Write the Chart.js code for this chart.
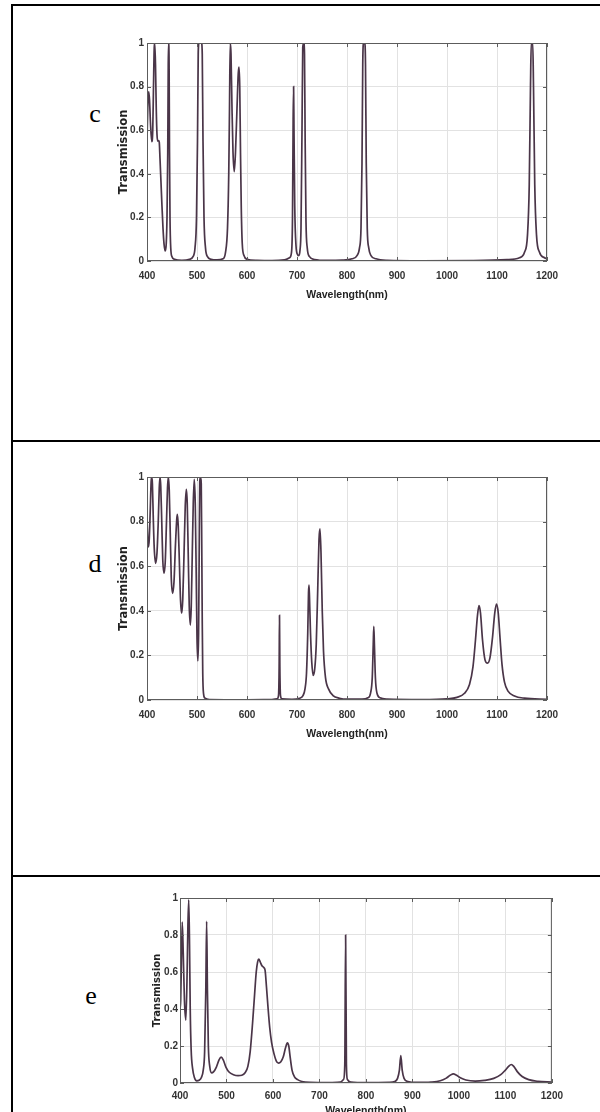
<!DOCTYPE html>
<html>
<head>
<meta charset="utf-8">
<script src="https://cdn.jsdelivr.net/npm/chart.js@4.4.0/dist/chart.umd.min.js"></script>
<style>
  html, body { margin: 0; padding: 0; background: #fff; }
  body { width: 600px; height: 1112px; position: relative; overflow: hidden; }
  .rule { position: absolute; background: #000; }
  .tag { position: absolute; width: 40px; text-align: center; font: 26px/26px 'Liberation Serif', 'Times New Roman', serif; color: #000; }
  canvas { position: absolute; }
</style>
</head>
<body>
<div class="rule" style="left:11px;top:4px;width:600px;height:1.5px"></div>
<div class="rule" style="left:11px;top:4px;width:1.5px;height:1120px"></div>
<div class="rule" style="left:11px;top:440px;width:600px;height:1.5px"></div>
<div class="rule" style="left:11px;top:875px;width:600px;height:1.5px"></div>

<div class="tag" style="left:75px;top:101px">c</div>
<div class="tag" style="left:75px;top:551px">d</div>
<div class="tag" style="left:71px;top:983px">e</div>

<canvas id="chartC" width="470" height="280" style="left:100px;top:30px"></canvas>
<canvas id="chartD" width="470" height="290" style="left:100px;top:460px"></canvas>
<canvas id="chartE" width="440" height="240" style="left:130px;top:885px"></canvas>

<script>
// axis ticks shared by the three panels
const xTickValues = [400, 500, 600, 700, 800, 900, 1000, 1100, 1200];
const xTickLabels = ['400', '500', '600', '700', '800', '900', '1000', '1100', '1200'];
const yTickValues = [0, 0.2, 0.4, 0.6, 0.8, 1];
const yTickLabels = ['0', '0.2', '0.4', '0.6', '0.8', '1'];

// panel c
const cWavelength = [
  400, 401.5, 403.3, 405, 407, 409.5, 411.5, 413, 414.5, 415.5, 417, 418.5, 420, 421.5, 423, 424.5, 426, 428, 430, 432, 434, 436.5, 438.5, 440, 441.5, 442.5, 443.3, 444.2, 445, 446, 447.5, 450, 455,
  470, 485, 492, 496, 499, 501, 502.5, 504, 506.5, 509, 510.5, 512, 514, 517, 521, 528, 540,
  552, 557, 561, 563.5, 565, 566.5, 568, 570, 572, 574.5, 577, 580, 582.5, 584, 585.5, 587, 588.5, 590.5, 594, 600, 620, 650,
  675, 685, 689, 691, 692.3, 693.2, 694, 695.5, 698, 701, 703.5, 706, 708, 710, 711.5, 713.5, 715, 716.3, 718, 720.5, 725, 735, 760,
  790, 810, 820, 825, 828, 830, 831.5, 833, 835.5, 837, 838.5, 840.5, 843.5, 848, 858, 880,
  950, 1050, 1120, 1145, 1155, 1161, 1164.5, 1167, 1168.5, 1171.5, 1173, 1175.5, 1179, 1185, 1195, 1200
];
const cTransmission = [
  0.55, 0.70, 0.777, 0.74, 0.63, 0.548, 0.60, 0.80, 0.98, 1.0, 0.90, 0.70, 0.58, 0.55, 0.552, 0.545, 0.47, 0.36, 0.25, 0.15, 0.08, 0.046, 0.08, 0.20, 0.50, 0.90, 1.0, 0.90, 0.50, 0.20, 0.06, 0.02, 0.008,
  0.003, 0.008, 0.02, 0.06, 0.2, 0.55, 0.95, 1.0, 1.0, 1.0, 0.95, 0.55, 0.2, 0.06, 0.02, 0.008, 0.005,
  0.01, 0.04, 0.15, 0.4, 0.7, 1.0, 0.95, 0.7, 0.5, 0.41, 0.5, 0.7, 0.86, 0.89, 0.8, 0.5, 0.25, 0.08, 0.025, 0.008, 0.003, 0.002,
  0.005, 0.015, 0.04, 0.2, 0.65, 0.8, 0.6, 0.25, 0.07, 0.03, 0.025, 0.05, 0.15, 0.6, 0.98, 1.0, 0.95, 0.55, 0.18, 0.06, 0.02, 0.007, 0.003,
  0.004, 0.01, 0.025, 0.06, 0.15, 0.45, 0.9, 1.0, 1.0, 0.9, 0.45, 0.15, 0.06, 0.025, 0.01, 0.003,
  0.001, 0.002, 0.006, 0.015, 0.04, 0.12, 0.35, 0.8, 1.0, 1.0, 0.8, 0.35, 0.12, 0.04, 0.015, 0.01
];

// panel d
const dWavelength = [
  400, 401.3, 402.7, 404.5, 406.5, 408.3, 409.5, 410.8, 412.5, 414.5, 417.3, 420, 422.5, 424.5, 426, 427.5, 429.5, 431.5, 434, 436.5, 439, 441, 442.7, 444.5, 446.5, 448.5, 451.3, 454, 457, 459.5, 460.7, 462.5, 465, 467, 469.3, 471.5, 474, 476.5, 478.7, 480.5, 482.5, 484.5, 486.7, 488.5, 490.5, 492.5, 494.5, 496.5, 498.5, 500, 501.7, 503.2, 504.5, 505.5, 507, 508.5, 509.5, 510.5, 511.5, 513, 516, 525,
  600, 650, 660, 663, 664.3, 665, 665.7, 667, 670, 690,
  705, 712, 716, 719, 721.5, 723, 724, 725, 727, 729.5, 732.5, 735.5, 738.5, 741.5, 744, 746, 748, 750.5, 753, 757, 763, 772, 785, 800,
  830, 842, 847, 850.5, 852.5, 853.6, 854.8, 856.8, 860, 866, 880, 950,
  1000, 1020, 1035, 1045, 1052, 1057, 1061, 1064, 1067, 1071, 1076, 1081, 1086, 1091, 1095.5, 1099, 1102.5, 1106, 1110, 1115, 1122, 1135, 1155, 1200
];
const dTransmission = [
  0.815, 0.73, 0.687, 0.72, 0.85, 0.98, 1.0, 0.97, 0.82, 0.68, 0.613, 0.66, 0.8, 0.95, 1.0, 0.96, 0.8, 0.63, 0.568, 0.62, 0.8, 0.95, 1.0, 0.94, 0.75, 0.55, 0.478, 0.53, 0.7, 0.81, 0.832, 0.78, 0.6, 0.45, 0.389, 0.45, 0.65, 0.87, 0.945, 0.88, 0.65, 0.42, 0.336, 0.42, 0.65, 0.88, 0.99, 0.88, 0.55, 0.28, 0.175, 0.3, 0.7, 0.98, 1.0, 0.97, 0.7, 0.35, 0.12, 0.03, 0.008, 0.002,
  0.001, 0.002, 0.005, 0.02, 0.15, 0.38, 0.15, 0.02, 0.005, 0.003,
  0.008, 0.02, 0.05, 0.12, 0.3, 0.48, 0.515, 0.46, 0.3, 0.17, 0.11, 0.14, 0.25, 0.5, 0.72, 0.767, 0.66, 0.4, 0.22, 0.1, 0.05, 0.02, 0.008, 0.004,
  0.004, 0.01, 0.03, 0.1, 0.25, 0.33, 0.25, 0.1, 0.03, 0.01, 0.004, 0.002,
  0.005, 0.012, 0.03, 0.07, 0.15, 0.27, 0.38, 0.423, 0.39, 0.27, 0.18, 0.165, 0.19, 0.28, 0.39, 0.43, 0.39, 0.28, 0.16, 0.08, 0.04, 0.018, 0.008, 0.003
];

// panel e
const eWavelength = [
  400, 401.5, 403, 404.8, 407, 409.5, 412.5, 415, 417, 418.8, 420.5, 422, 424, 427, 431, 436, 441, 446, 450, 453, 455.5, 457.3, 459, 461, 464, 468,
  472, 478, 484, 488.5, 493, 499, 506, 515, 525, 533,
  540, 546, 551, 556, 560.5, 564, 567, 569.5, 572.5, 576, 580, 583, 586, 589, 593, 597, 602, 607, 612, 617, 622, 627, 631, 634, 637, 641, 646, 653, 662, 680,
  720, 745, 752, 754.5, 756.3, 758, 760, 768, 800,
  850, 862, 868, 872, 875, 878, 882, 890, 910, 940, 960, 972, 982, 988, 994, 1003, 1015, 1035, 1055, 1075, 1090, 1100, 1107, 1112.5, 1118, 1126, 1136, 1150, 1170, 1200
];
const eTransmission = [
  0.40, 0.45, 0.65, 0.87, 0.70, 0.45, 0.34, 0.55, 0.85, 0.99, 0.75, 0.4, 0.18, 0.08, 0.03, 0.012, 0.015, 0.03, 0.07, 0.17, 0.5, 0.874, 0.5, 0.2, 0.09, 0.055,
  0.06, 0.085, 0.125, 0.14, 0.125, 0.085, 0.058, 0.045, 0.04, 0.042,
  0.055, 0.09, 0.17, 0.32, 0.48, 0.6, 0.655, 0.67, 0.655, 0.635, 0.625, 0.61, 0.52, 0.42, 0.3, 0.22, 0.16, 0.12, 0.107, 0.115, 0.14, 0.19, 0.217, 0.2, 0.14, 0.07, 0.035, 0.018, 0.008, 0.003,
  0.002, 0.005, 0.02, 0.1, 0.8, 0.1, 0.02, 0.005, 0.002,
  0.003, 0.008, 0.025, 0.07, 0.148, 0.07, 0.025, 0.008, 0.003, 0.005, 0.012, 0.025, 0.043, 0.049, 0.043, 0.028, 0.016, 0.01, 0.014, 0.025, 0.045, 0.07, 0.09, 0.1, 0.09, 0.06, 0.035, 0.018, 0.009, 0.005
];

const lineColor = '#4a3548';
const gridColor = '#e2e2e2';
const boxColor = '#5c5c5c';
const tickColor = '#333';
const tickFamily = "'Liberation Sans Narrow', 'Arial Narrow', 'Liberation Sans', Arial, sans-serif";

// matlab style frame: full box plus short inward ticks on all four sides
const matlabBox = {
  id: 'matlabBox',
  afterDatasetsDraw(chart) {
    const { ctx, chartArea: a, scales: { x, y } } = chart;
    ctx.save();
    ctx.strokeStyle = boxColor;
    ctx.lineWidth = 1;
    ctx.strokeRect(a.left + 0.5, a.top + 0.5, a.right - a.left - 1, a.bottom - a.top - 1);
    ctx.beginPath();
    x.ticks.forEach(t => {
      const px = Math.round(x.getPixelForValue(t.value)) + 0.5;
      ctx.moveTo(px, a.bottom); ctx.lineTo(px, a.bottom - 4);
      ctx.moveTo(px, a.top); ctx.lineTo(px, a.top + 4);
    });
    y.ticks.forEach(t => {
      const py = Math.round(y.getPixelForValue(t.value)) + 0.5;
      ctx.moveTo(a.left, py); ctx.lineTo(a.left + 4, py);
      ctx.moveTo(a.right, py); ctx.lineTo(a.right - 4, py);
    });
    ctx.stroke();
    ctx.restore();
  }
};

function drawPanel(id, wl, tr, g) {
  return new Chart(document.getElementById(id), {
    type: 'line',
    data: {
      datasets: [{
        data: wl.map((x, i) => ({ x: x, y: tr[i] })),
        borderColor: lineColor,
        borderWidth: 1.7,
        pointRadius: 0,
        cubicInterpolationMode: 'monotone',
        fill: false
      }]
    },
    options: {
      responsive: false,
      animation: false,
      layout: { padding: { top: g.padTop, right: g.padRight, left: 0, bottom: 0 } },
      plugins: { legend: { display: false }, tooltip: { enabled: false } },
      scales: {
        x: {
          type: 'linear', min: 400, max: 1200,
          afterBuildTicks: s => { s.ticks = xTickValues.map(v => ({ value: v })); },
          afterFit: s => { s.height = g.xHeight; },
          grid: { color: gridColor, drawTicks: false },
          border: { display: false },
          ticks: {
            autoSkip: false, maxRotation: 0, padding: g.xTickPad, color: tickColor,
            font: { family: tickFamily, size: 10, weight: 'bold' },
            callback: (v, i) => xTickLabels[i]
          },
          title: {
            display: true, text: 'Wavelength(nm)', color: '#222',
            font: { family: tickFamily, size: 10.5, weight: 'bold' },
            padding: { top: 0, bottom: g.xTitlePad }
          }
        },
        y: {
          type: 'linear', min: 0, max: 1,
          afterBuildTicks: s => { s.ticks = yTickValues.map(v => ({ value: v })); },
          afterFit: s => { s.width = g.yWidth; },
          grid: { color: gridColor, drawTicks: false },
          border: { display: false },
          ticks: {
            padding: g.yTickPad, color: tickColor,
            font: { family: tickFamily, size: 10, weight: 'bold' },
            callback: (v, i) => yTickLabels[i]
          },
          title: {
            display: true, text: 'Transmission', color: '#222',
            font: { family: "'DejaVu Sans', sans-serif", size: g.yTitleSize, weight: 'bold' },
            padding: { top: g.yTitlePad, bottom: 0 }
          }
        }
      }
    },
    plugins: [matlabBox]
  });
}

drawPanel('chartC', cWavelength, cTransmission, { padTop: 13, padRight: 23, yWidth: 47, xHeight: 49, xTickPad: 9, xTitlePad: 9, yTickPad: 3, yTitlePad: 17, yTitleSize: 11.5 });
drawPanel('chartD', dWavelength, dTransmission, { padTop: 17, padRight: 23, yWidth: 47, xHeight: 50, xTickPad: 9, xTitlePad: 10, yTickPad: 3, yTitlePad: 17, yTitleSize: 11.5 });
drawPanel('chartE', eWavelength, eTransmission, { padTop: 13, padRight: 17, yWidth: 50, xHeight: 42, xTickPad: 7, xTitlePad: 8, yTickPad: 2, yTitlePad: 21, yTitleSize: 10 });
</script>
</body>
</html>
